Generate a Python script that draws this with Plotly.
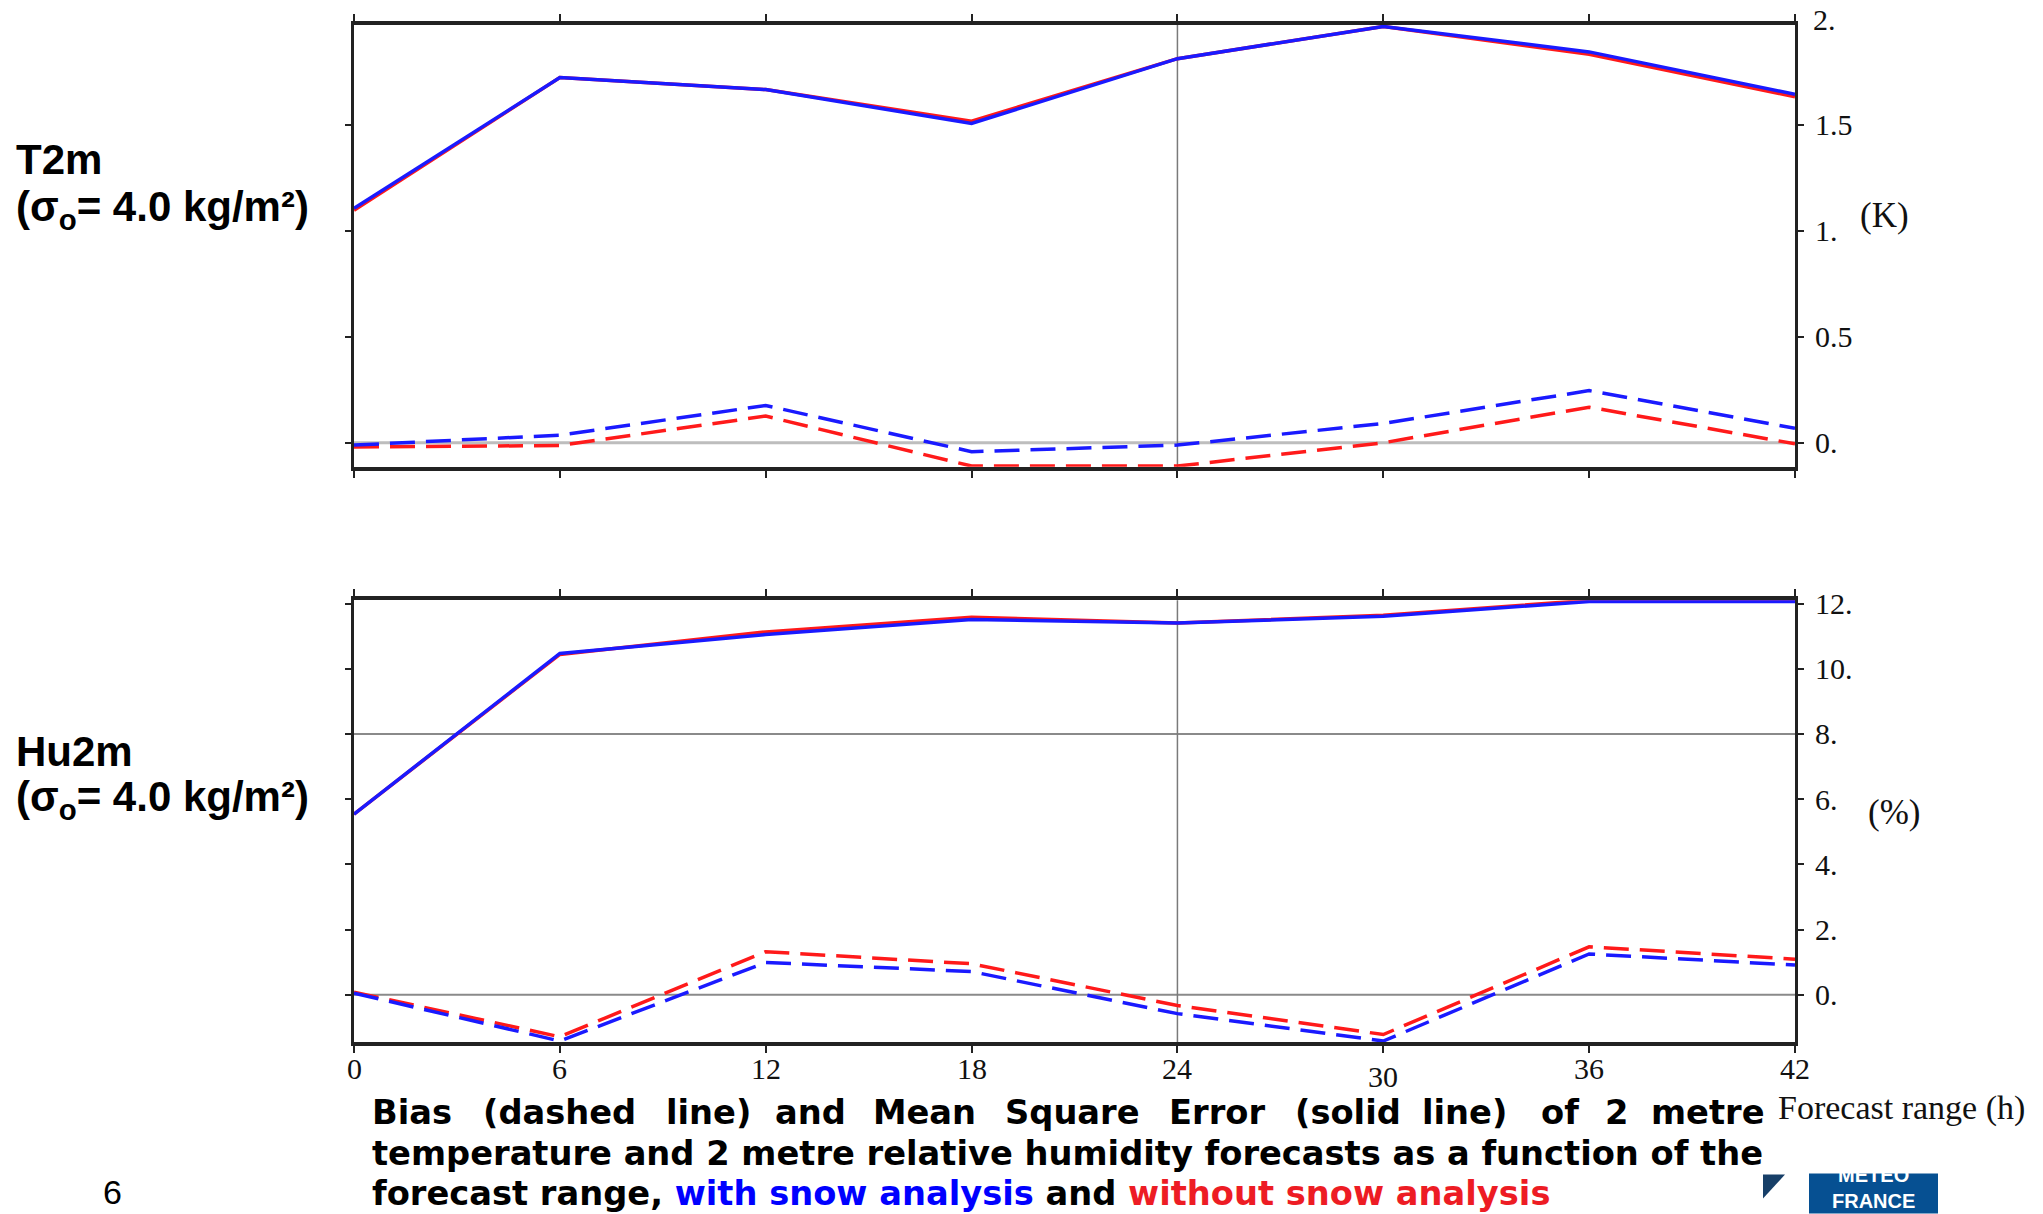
import plotly.graph_objects as go

# ---------------- data ----------------
forecast_range = [0, 6, 12, 18, 24, 30, 36, 42]
x_tick_labels = ["0", "6", "12", "18", "24", "30", "36", "42"]

# T2m (K)
t2m_mse_with = [1.107, 1.724, 1.667, 1.507, 1.813, 1.965, 1.845, 1.645]
t2m_mse_without = [1.097, 1.724, 1.667, 1.518, 1.813, 1.965, 1.834, 1.633]
t2m_bias_with = [-0.011, 0.036, 0.176, -0.042, -0.011, 0.091, 0.246, 0.068]
t2m_bias_without = [-0.020, -0.013, 0.126, -0.11, -0.11, 0.0, 0.168, -0.005]

# Hu2m (%)
hu2m_mse_with = [5.54, 10.47, 11.05, 11.51, 11.40, 11.61, 12.06, 12.06]
hu2m_mse_without = [5.54, 10.44, 11.13, 11.58, 11.40, 11.64, 12.10, 12.08]
hu2m_bias_with = [0.05, -1.42, 0.99, 0.71, -0.58, -1.42, 1.25, 0.91]
hu2m_bias_without = [0.08, -1.29, 1.32, 0.95, -0.33, -1.22, 1.47, 1.09]

t2m_ticks = [0, 0.5, 1, 1.5, 2]
t2m_ticktext = ["0.", "0.5", "1.", "1.5", "2."]
hu2m_ticks = [0, 2, 4, 6, 8, 10, 12]
hu2m_ticktext = ["0.", "2.", "4.", "6.", "8.", "10.", "12."]

t2m_range = [-0.113, 1.972]
hu2m_range = [-1.45, 12.1]

# reference grid lines
t2m_hgrid = [0]
hu2m_hgrid = [0, 8]
vgrid = [24]

BLUE = "#1a1aff"
RED = "#ff1a1a"

# ---------------- layout geometry (pixels) ----------------
W_FIG, H_FIG = 2043, 1214
L, R, T, B = 354, 1795, 22, 1042
PW, PH = R - L, B - T


def px(x):
    return (x - L) / PW


def py(y):
    return (B - y) / PH


top_dom = [py(465), 1.0]
bot_dom = [0.0, py(599)]

fig = go.Figure()


def add_pair(xa, ya, with_v, without_v, dashed):
    style = dict(width=3.5, dash="25px,11px") if dashed else dict(width=3.5)
    fig.add_trace(go.Scatter(x=forecast_range, y=without_v, mode="lines",
                             line=dict(color=RED, **style), xaxis=xa, yaxis=ya,
                             showlegend=False, hoverinfo="skip"))
    fig.add_trace(go.Scatter(x=forecast_range, y=with_v, mode="lines",
                             line=dict(color=BLUE, **style), xaxis=xa, yaxis=ya,
                             showlegend=False, hoverinfo="skip"))


add_pair("x", "y", t2m_bias_with, t2m_bias_without, True)
add_pair("x", "y", t2m_mse_with, t2m_mse_without, False)
add_pair("x2", "y2", hu2m_bias_with, hu2m_bias_without, True)
add_pair("x2", "y2", hu2m_mse_with, hu2m_mse_without, False)

tickfont = dict(family="Liberation Serif", size=30, color="#111")

xaxis_common = dict(range=[0, 42], tickvals=forecast_range, showticklabels=False,
                    showgrid=False, zeroline=False, showline=True, mirror="ticks",
                    linecolor="#222", linewidth=4, ticks="outside", ticklen=7,
                    tickwidth=2, tickcolor="#222")
yaxis_common = dict(side="right", showgrid=False, zeroline=False, showline=True,
                    mirror="ticks", linecolor="#222", linewidth=3, ticks="outside",
                    ticklen=6, tickwidth=2, tickcolor="#222", tickfont=tickfont,
                    ticklabelstandoff=5)

fig.update_layout(
    width=W_FIG, height=H_FIG,
    margin=dict(l=L, r=W_FIG - R, t=T, b=H_FIG - B),
    paper_bgcolor="white", plot_bgcolor="white",
    xaxis=dict(domain=[0, 1], anchor="y", **xaxis_common),
    yaxis=dict(domain=top_dom, anchor="x", range=t2m_range,
               tickvals=t2m_ticks, ticktext=t2m_ticktext, **yaxis_common),
    xaxis2=dict(domain=[0, 1], anchor="y2", **xaxis_common),
    yaxis2=dict(domain=bot_dom, anchor="x2", range=hu2m_range,
                tickvals=hu2m_ticks, ticktext=hu2m_ticktext, **yaxis_common),
)

shapes = []
for v in t2m_hgrid:
    shapes.append(dict(type="line", xref="x domain", yref="y", x0=0, x1=1, y0=v, y1=v,
                       line=dict(color="#bdbdbd", width=3), layer="below"))
for v in hu2m_hgrid:
    shapes.append(dict(type="line", xref="x2 domain", yref="y2", x0=0, x1=1, y0=v, y1=v,
                       line=dict(color="#8a8a8a", width=2), layer="below"))
for v in vgrid:
    shapes.append(dict(type="line", xref="x", yref="y domain", x0=v, x1=v, y0=0, y1=1,
                       line=dict(color="#7a7a7a", width=1.5), layer="below"))
    shapes.append(dict(type="line", xref="x2", yref="y2 domain", x0=v, x1=v, y0=0, y1=1,
                       line=dict(color="#7a7a7a", width=1.5), layer="below"))

# Meteo-France logo
shapes.append(dict(type="rect", xref="paper", yref="paper", x0=px(1809), x1=px(1938),
                   y0=py(1214), y1=py(1174), fillcolor="#065092", line=dict(width=0)))
shapes.append(dict(type="path", xref="paper", yref="paper",
                   path=f"M {px(1763)} {py(1175)} L {px(1785)} {py(1175)} L {px(1763)} {py(1199)} Z",
                   fillcolor="#173f68", line=dict(width=0)))
fig.update_layout(shapes=shapes)

ann = []


def text(x, y, s, size, family, color="#000", xanchor="left", bold=False, yanchor="middle"):
    if bold:
        s = f"<b>{s}</b>"
    ann.append(dict(x=px(x), y=py(y), xref="paper", yref="paper", text=s, showarrow=False,
                    xanchor=xanchor, yanchor=yanchor,
                    font=dict(size=size, family=family, color=color)))


# top tick label that lies just above the plotted range (placed in axis-domain units)
for v, lab in zip(t2m_ticks, t2m_ticktext):
    if v > t2m_range[1]:
        frac = (v - t2m_range[0]) / (t2m_range[1] - t2m_range[0])
        ann.append(dict(x=px(1811), y=frac, xref="paper", yref="y domain", text=lab,
                        showarrow=False, xanchor="left", yanchor="middle", font=tickfont))

# x tick labels under bottom panel
for v, lab in zip(forecast_range, x_tick_labels):
    yy = 1077 if lab == "30" else 1069
    ann.append(dict(x=v, y=py(yy), xref="x2", yref="paper", text=lab, showarrow=False,
                    xanchor="center", yanchor="middle", font=tickfont))

text(1776, 1108, "Forecast range (h)", 34, "Liberation Serif", color="#111")
text(1885, 213, "(K)", 35, "Liberation Serif", color="#111", xanchor="center")
text(1894, 812, "(%)", 35, "Liberation Serif", color="#111", xanchor="center")

# left labels
text(14, 157, "T2m", 42, "Liberation Sans", bold=True)
text(14, 207, "(σ<sub>o</sub>= 4.0 kg/m²)", 42, "Liberation Sans", bold=True)
text(14, 751, "Hu2m", 42, "Liberation Sans", bold=True)
text(14, 799, "(σ<sub>o</sub>= 4.0 kg/m²)", 42, "Liberation Sans", bold=True)

# caption (justified first line)
cap_font = "DejaVu Sans"
cap_size = 33.7
line1_words = ["Bias", "(dashed", "line)", "and", "Mean", "Square", "Error",
               "(solid", "line)", "of", "2", "metre"]
line1_x = [370, 481, 664, 773, 871, 1003, 1167, 1293, 1420, 1539, 1603, 1649]
for w, xx in zip(line1_words, line1_x):
    text(xx, 1113, w, cap_size, cap_font, bold=True)
text(370, 1154, "temperature and 2 metre relative humidity forecasts as a function of the",
     cap_size, cap_font, bold=True)
text(370, 1194, "forecast range, <span style='color:#0000ff'>with snow analysis</span> and "
     "<span style='color:#ED1C24'>without snow analysis</span>", cap_size, cap_font, bold=True)

# page number
text(112, 1214, "6", 34, "Liberation Sans", xanchor="center", yanchor="bottom")

# logo text
text(1873, 1188, "METEO<br>FRANCE", 20, "Liberation Sans", color="white",
     xanchor="center", bold=True)

fig.update_layout(annotations=ann)
fig.write_html("out.html")
